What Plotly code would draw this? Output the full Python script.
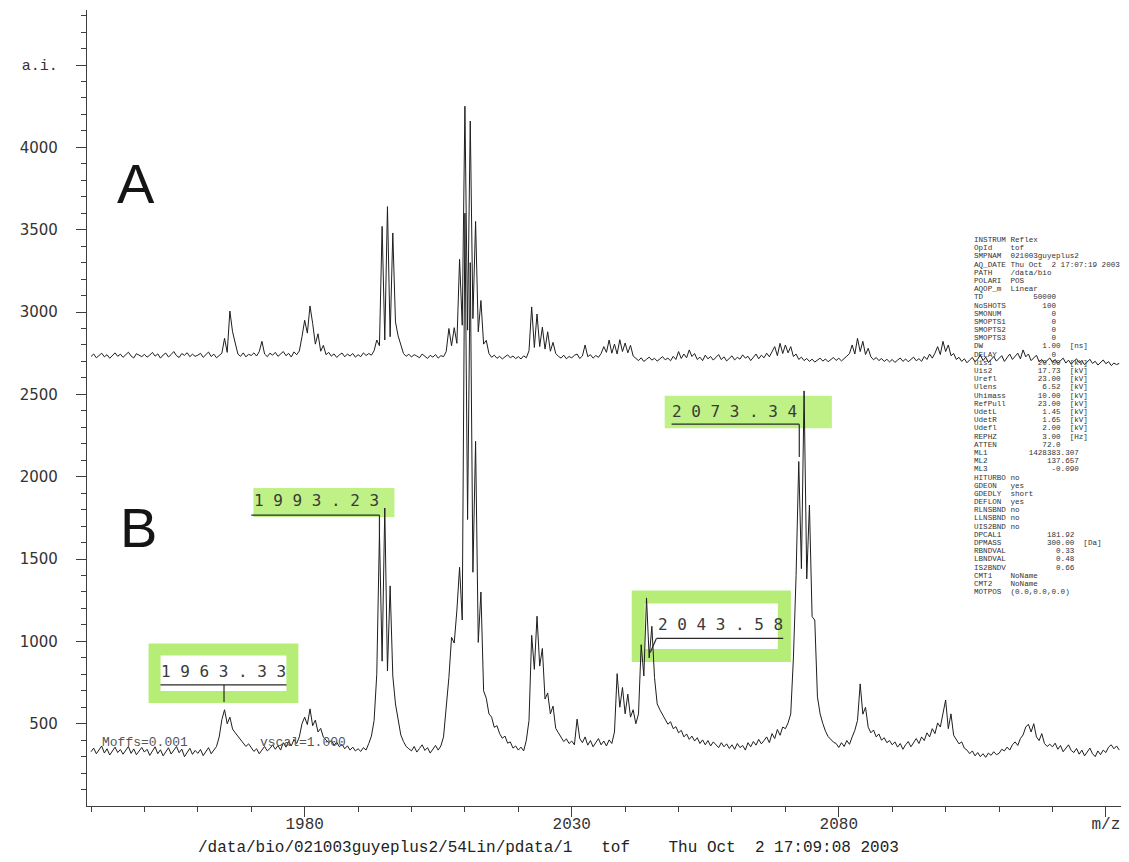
import plotly.graph_objects as go

# ---------------- data ----------------
MZ_START = 1940.0          # m/z of first sample
MZ_STEP = 0.5              # sampling step (Da)

# Spectrum A (upper trace), intensity in a.i.
SPEC_A = [
    2730, 2745, 2722, 2738, 2750, 2728, 2741, 2719, 2735, 2752, 2731, 2744, 2725, 2740, 2756, 2733, 2721, 2747, 2736, 2729,
    2743, 2726, 2738, 2755, 2732, 2746, 2720, 2739, 2751, 2727, 2742, 2760, 2735, 2724, 2748, 2737, 2753, 2729, 2744, 2731,
    2738, 2749, 2725, 2741, 2757, 2730, 2744, 2722, 2739, 2750, 2840, 2755, 3006, 2880, 2812, 2745, 2731, 2752, 2728, 2743,
    2736, 2752, 2733, 2760, 2822, 2745, 2729, 2750, 2738, 2755, 2731, 2746, 2760, 2735, 2749, 2727, 2758, 2741, 2763, 2850,
    2950, 2872, 3037, 2930, 2805, 2868, 2762, 2798, 2741, 2755, 2732, 2746, 2724, 2740, 2751, 2728, 2745, 2733, 2748, 2726,
    2741, 2729, 2752, 2736, 2748, 2738, 2765, 2830, 2795, 3520, 2830, 3640, 2850, 3480, 2940, 2855, 2795, 2748, 2731, 2744,
    2727, 2741, 2733, 2722, 2745, 2730, 2718, 2737, 2726, 2742, 2720, 2735, 2729, 2760, 2900, 2795, 2905, 2810, 3320, 2920,
    4250, 2890, 4160, 2960, 3550, 2880, 3070, 2805, 2828, 2748, 2725, 2738, 2719, 2731, 2715, 2728, 2740, 2722, 2733, 2717,
    2729, 2715, 2734, 2722, 2765, 3031, 2785, 2988, 2790, 2908, 2775, 2880, 2762, 2816, 2748, 2731, 2720, 2738, 2716, 2730,
    2722, 2737, 2745, 2718, 2733, 2800, 2729, 2741, 2720, 2736, 2725, 2748, 2790, 2755, 2830, 2750, 2805, 2745, 2832, 2760,
    2812, 2752, 2798, 2733, 2716, 2705, 2722, 2700, 2713, 2726, 2708, 2719, 2702, 2715, 2729, 2710, 2720, 2704, 2731, 2712,
    2760, 2718, 2745, 2722, 2770, 2730, 2748, 2712, 2726, 2705, 2738, 2716, 2730, 2708, 2724, 2742, 2711, 2728, 2703, 2719,
    2734, 2709, 2725, 2714, 2740, 2720, 2731, 2705, 2729, 2745, 2716, 2738, 2722, 2750, 2728, 2760, 2790, 2735, 2810, 2748,
    2800, 2752, 2790, 2730, 2745, 2712, 2726, 2705, 2718, 2700, 2714, 2696, 2709, 2720, 2702, 2715, 2698, 2711, 2724, 2706,
    2719, 2703, 2716, 2732, 2748, 2800, 2745, 2840, 2760, 2822, 2742, 2780, 2728, 2710, 2724, 2705, 2718, 2700, 2713, 2697,
    2712, 2694, 2708, 2721, 2700, 2715, 2698, 2710, 2726, 2704, 2717, 2701, 2730, 2712, 2745, 2720, 2750, 2790, 2742, 2822,
    2760, 2800, 2735, 2748, 2712, 2725, 2700, 2716, 2692, 2709, 2724, 2698, 2715, 2740, 2705, 2726, 2694, 2710, 2730, 2702,
    2718, 2735, 2700, 2722, 2745, 2712, 2730, 2750, 2716, 2770, 2728, 2745, 2705, 2720, 2738, 2698, 2712, 2690, 2706, 2721,
    2695, 2712, 2688, 2702, 2720, 2690, 2708, 2684, 2700, 2716, 2692, 2705, 2680, 2697, 2713, 2688, 2701, 2678, 2694, 2709,
    2686, 2699, 2675, 2690, 2681, 2688,
]

# Spectrum B (lower trace), intensity in a.i.
SPEC_B = [
    330, 352, 318, 341, 365, 322, 348, 310, 336, 358, 325, 344, 315, 339, 362, 320, 347, 312, 334, 356,
    328, 345, 308, 337, 360, 318, 342, 305, 331, 354, 316, 340, 362, 324, 346, 300, 329, 351, 314, 338,
    320, 344, 306, 333, 355, 318, 340, 362, 420, 525, 585, 500, 540, 468, 445, 425, 402, 385, 362, 378,
    355, 332, 348, 318, 340, 362, 335, 350, 372, 345, 368, 340, 385, 358, 392, 365, 405, 380, 420, 500,
    540, 495, 590, 488, 522, 450, 472, 418, 402, 385, 398, 370, 388, 360, 375, 348, 366, 340, 358, 335,
    348, 332, 355, 340, 380, 425, 520, 800, 1660, 880, 1810, 820, 1337, 790, 620, 515, 432, 392, 362, 348,
    335, 362, 328, 350, 372, 338, 355, 322, 346, 368, 340, 365, 420, 600, 780, 1025, 990, 1190, 1450, 1130,
    3600, 1740, 3300, 1420, 2215, 994, 1300, 700, 655, 560, 540, 478, 488, 440, 412, 425, 382, 390, 352, 365,
    340, 358, 335, 400, 520, 1037, 830, 1153, 850, 957, 650, 687, 560, 607, 472, 445, 418, 392, 408, 380,
    395, 372, 528, 410, 385, 420, 370, 398, 360, 385, 410, 372, 395, 365, 402, 380, 450, 804, 600, 720,
    560, 680, 540, 585, 500, 560, 980, 790, 1264, 900, 1092, 780, 620, 585, 555, 530, 497, 512, 470, 482,
    445, 460, 420, 438, 405, 425, 395, 415, 380, 402, 372, 398, 365, 390, 375, 355, 385, 360, 378, 350,
    372, 345, 380, 355, 368, 340, 385, 360, 392, 370, 405, 378, 398, 420, 385, 440, 410, 465, 430, 480,
    470, 505, 560, 900, 1400, 2092, 1442, 2521, 1380, 1828, 1150, 1130, 663, 560, 502, 455, 422, 405, 388, 380,
    356, 385, 362, 398, 375, 420, 460, 520, 742, 558, 600, 479, 445, 462, 420, 438, 400, 415, 385, 398,
    372, 390, 358, 380, 345, 372, 392, 360, 385, 410, 380, 420, 398, 445, 420, 470, 440, 505, 480, 560,
    644, 470, 560, 430, 405, 378, 390, 352, 340, 318, 335, 305, 325, 300, 318, 296, 322, 308, 330, 312,
    320, 345, 335, 358, 340, 372, 390, 368, 410, 432, 480, 497, 450, 500, 420, 398, 440, 380, 362, 375,
    360, 382, 345, 368, 330, 355, 372, 338, 325, 350, 315, 340, 305, 328, 352, 318, 300, 335, 312, 340,
    325, 358, 372, 348, 365, 340,
]

# axis ticks
X_TICK_VALUES = [1980, 2030, 2080, 2130]
X_TICK_LABELS = ["1980", "2030", "2080", "m/z"]
Y_TICK_VALUES = [500, 1000, 1500, 2000, 2500, 3000, 3500, 4000, 4500]
Y_TICK_LABELS = ["500", "1000", "1500", "2000", "2500", "3000", "3500", "4000",
                 "<span style='font-family:Liberation Mono'>a.i.</span>"]

# peak annotations of spectrum B
PEAK_LABELS = ["1963.33", "1993.23", "2043.58", "2073.34"]

# acquisition parameter block (name, value, unit, right-align column or 0)
META_ROWS = [
    ("INSTRUM", "Reflex", "", 0), ("OpId", "tof", "", 0),
    ("SMPNAM", "021003guyeplus2", "", 0), ("AQ_DATE", "Thu Oct  2 17:07:19 2003", "", 0),
    ("PATH", "/data/bio", "", 0), ("POLARI", "POS", "", 0), ("AQOP_m", "Linear", "", 0),
    ("TD", "50000", "", 18), ("NoSHOTS", "100", "", 18), ("SMONUM", "0", "", 18),
    ("SMOPTS1", "0", "", 18), ("SMOPTS2", "0", "", 18), ("SMOPTS3", "0", "", 18),
    ("DW", "1.00", "[ns]", 19), ("DELAY", "0", "", 18),
    ("Uis1", "20.00", "[kV]", 19), ("Uis2", "17.73", "[kV]", 19), ("Urefl", "23.00", "[kV]", 19),
    ("Ulens", "6.52", "[kV]", 19), ("Uhimass", "10.00", "[kV]", 19), ("RefPull", "23.00", "[kV]", 19),
    ("UdetL", "1.45", "[kV]", 19), ("UdetR", "1.65", "[kV]", 19), ("Udefl", "2.00", "[kV]", 19),
    ("REPHZ", "3.00", "[Hz]", 19), ("ATTEN", "72.0", "", 19),
    ("ML1", "1428383.307", "", 23), ("ML2", "137.657", "", 23), ("ML3", "-0.090", "", 23),
    ("HITURBO", "no", "", 0), ("GDEON", "yes", "", 0), ("GDEDLY", "short", "", 0),
    ("DEFLON", "yes", "", 0), ("RLNSBND", "no", "", 0), ("LLNSBND", "no", "", 0),
    ("UIS2BND", "no", "", 0), ("DPCAL1", "181.92", "", 22), ("DPMASS", "300.00", "[Da]", 22),
    ("RBNDVAL", "0.33", "", 22), ("LBNDVAL", "0.48", "", 22), ("IS2BNDV", "0.66", "", 22),
    ("CMT1", "NoName", "", 0), ("CMT2", "NoName", "", 0), ("MOTPOS", "(0.0,0.0,0.0)", "", 0),
]

FOOTER = "/data/bio/021003guyeplus2/54Lin/pdata/1   tof    Thu Oct  2 17:09:08 2003"

# ---------------- figure ----------------
OFF = 8                      # page body margin of the html page
W, H = 1129 - OFF, 862 - OFF
# plot area in page pixels: x 87..1113, y 10..798
ML_, MR_, MT_, MB_ = 87 - OFF, 1129 - OFF - 1113, 10 - OFF, 862 - OFF - 798
INK = "#1e1e1e"
AXC = "#404040"
HL_FILL = "#bff186"
HL_LINE = "#b6ed76"

mz = [MZ_START + MZ_STEP * i for i in range(len(SPEC_A))]

fig = go.Figure()
fig.add_trace(go.Scatter(x=mz, y=SPEC_A, mode="lines", line=dict(color=INK, width=1),
                         hoverinfo="skip", name="A"))
fig.add_trace(go.Scatter(x=mz, y=SPEC_B, mode="lines", line=dict(color=INK, width=1),
                         hoverinfo="skip", name="B"))

shapes = []
annotations = []

# highlighter marks (hand-drawn on the print-out)
shapes += [
    dict(type="rect", xref="x", yref="y", x0=1951.9, x1=1977.7, y0=663, y1=951,
         line=dict(color=HL_LINE, width=12), fillcolor="rgba(0,0,0,0)", layer="below"),
    dict(type="rect", xref="x", yref="y", x0=1970.4, x1=1996.8, y0=1755, y1=1932,
         line=dict(width=0), fillcolor=HL_FILL, layer="below"),
    dict(type="rect", xref="x", yref="y", x0=2042.45, x1=2069.8, y0=914, y1=1270,
         line=dict(color=HL_LINE, width=13), fillcolor="rgba(0,0,0,0)", layer="below"),
    dict(type="rect", xref="x", yref="y", x0=2047.4, x1=2078.7, y0=2294, y1=2491,
         line=dict(width=0), fillcolor=HL_FILL, layer="below"),
]

# label underlines and leaders
LBL = dict(color="#2a2a2a", width=1.2)
label_geom = [
    # (text x, text y, underline x0, x1, y, leader pts)
    (1964.72, 816, 1953.0, 1976.6, 736, [(1964.9, 736), (1964.9, 632)]),
    (1982.3, 1853, 1970.0, 1994.0, 1767, [(1994.0, 1767), (1994.0, 1656)]),
    (2057.9, 1104, 2045.85, 2069.6, 1018, [(2045.85, 1018), (2044.7, 933)]),
    (2060.4, 2399, 2048.7, 2072.6, 2319, [(2072.6, 2319), (2072.6, 2120)]),
]
for text, (tx, ty, ux0, ux1, uy, lead) in zip(PEAK_LABELS, label_geom):
    shapes.append(dict(type="line", xref="x", yref="y", x0=ux0, x1=ux1, y0=uy, y1=uy, line=LBL))
    shapes.append(dict(type="line", xref="x", yref="y", x0=lead[0][0], y0=lead[0][1],
                       x1=lead[1][0], y1=lead[1][1], line=LBL))
    annotations.append(dict(x=tx, y=ty, xref="x", yref="y", text=" ".join(text), showarrow=False,
                            font=dict(family="DejaVu Sans Mono", size=16, color="#3a3a3a"),
                            xanchor="center", yanchor="middle"))


def px2paper(px, py):
    """page pixel position -> paper coordinates"""
    fx, fy = px - OFF, py - OFF
    return (fx - ML_) / (W - ML_ - MR_), (H - MB_ - fy) / (H - MT_ - MB_)


# big panel letters
for letter, (px, py) in (("A", (136, 183)), ("B", (138, 527))):
    xp, yp = px2paper(px, py)
    annotations.append(dict(x=xp, y=yp, xref="paper", yref="paper", text=letter, showarrow=False,
                            font=dict(family="Liberation Sans", size=56, color="#151515"),
                            xanchor="center", yanchor="middle"))

# overprinted offset / scale notes
for txt, (px, py) in (("Moffs=0.001", (145, 742)), ("vscal=1.000", (303, 742))):
    xp, yp = px2paper(px, py)
    annotations.append(dict(x=xp, y=yp, xref="paper", yref="paper", text=txt, showarrow=False,
                            font=dict(family="Liberation Mono", size=13, color="#555555"),
                            xanchor="center", yanchor="middle"))

# parameter block
for i, (name, val, unit, col) in enumerate(META_ROWS):
    if col == 0:
        line = f"{name:<8}{val}"
    else:
        line = f"{name:<8}" + val.rjust(col - 8) + (("  " + unit) if unit else "")
    xp, yp = px2paper(972, 240 + i * 8.19)
    annotations.append(dict(x=xp, y=yp, xref="paper", yref="paper",
                            text=line.replace(" ", "&nbsp;"), showarrow=False,
                            font=dict(family="Liberation Mono", size=7.6, color="#333333"),
                            xanchor="left", yanchor="middle"))

# footer
xp, yp = px2paper(196, 848)
annotations.append(dict(x=xp, y=yp, xref="paper", yref="paper", text=FOOTER.replace(" ", "&nbsp;"),
                        showarrow=False, font=dict(family="Liberation Mono", size=16, color="#222222"),
                        xanchor="left", yanchor="middle"))

fig.update_layout(
    width=W, height=H,
    margin=dict(l=ML_, r=MR_, t=MT_, b=MB_, pad=0),
    paper_bgcolor="white", plot_bgcolor="white",
    showlegend=False,
    shapes=shapes, annotations=annotations,
    xaxis=dict(range=[1939.25, 2132.83], showgrid=False, zeroline=False,
               showline=True, linecolor=AXC, linewidth=1.3,
               ticks="outside", ticklen=10, tickwidth=1.2, tickcolor=AXC,
               tickmode="array", tickvals=X_TICK_VALUES, ticktext=X_TICK_LABELS,
               tickfont=dict(family="Liberation Mono", size=16, color="#333333"),
               ticklabelstandoff=-7,
               minor=dict(tickmode="linear", tick0=1930, dtick=10, ticks="outside",
                          ticklen=5, tickwidth=1, tickcolor=AXC, showgrid=False)),
    yaxis=dict(range=[0.5, 4834], showgrid=False, zeroline=False,
               showline=True, linecolor=AXC, linewidth=1.3,
               ticks="outside", ticklen=10, tickwidth=1.2, tickcolor=AXC,
               tickmode="array", tickvals=Y_TICK_VALUES, ticktext=Y_TICK_LABELS,
               tickfont=dict(family="DejaVu Sans", size=15, color="#333333"),
               ticklabelstandoff=15,
               minor=dict(tickmode="linear", tick0=0, dtick=100, ticks="outside",
                          ticklen=5, tickwidth=1, tickcolor=AXC, showgrid=False)),
)

fig.write_html("out.html")
